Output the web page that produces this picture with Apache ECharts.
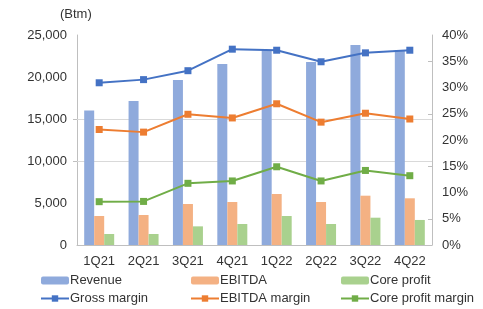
<!DOCTYPE html>
<html><head><meta charset="utf-8">
<script src="https://cdn.jsdelivr.net/npm/echarts@6/dist/echarts.min.js"></script>
<style>html,body{margin:0;padding:0;background:#fff}#c{width:483px;height:309px}</style>
</head><body><div id="c"></div>
<script>
const categories = ['1Q21','2Q21','3Q21','4Q21','1Q22','2Q22','3Q22','4Q22'];
const revenue = [16000, 17150, 19650, 21550, 23200, 21800, 23800, 23200];
const ebitda = [3450, 3570, 4880, 5120, 6070, 5120, 5870, 5560];
const coreProfit = [1310, 1310, 2220, 2500, 3450, 2500, 3250, 2980];
const grossMargin = [30.9, 31.5, 33.2, 37.3, 37.1, 34.9, 36.6, 37.1];
const ebitdaMargin = [22.0, 21.5, 24.9, 24.2, 26.9, 23.4, 25.1, 24.0];
const coreMargin = [8.25, 8.3, 11.75, 12.2, 14.9, 12.2, 14.2, 13.2];
const leftTicks = [0, 5000, 10000, 15000, 20000, 25000];
const rightTicks = [0, 5, 10, 15, 20, 25, 30, 35, 40];

const font = 'Liberation Sans, Arial, sans-serif';
const txt = '#333333';
const chart = echarts.init(document.getElementById('c'));
const lineSeries = (name, data, color) => ({
  name, type: 'line', yAxisIndex: 1, data,
  symbol: 'rect', symbolSize: 7,
  lineStyle: { color, width: 2 }, itemStyle: { color },
  z: 5
});
const legendBase = {
  orient: 'vertical', top: 274, itemWidth: 28, itemHeight: 8, itemGap: 5,
  textStyle: { fontFamily: font, fontSize: 13, color: txt, padding: [0,0,0,-4] },
  padding: 0
};
chart.setOption({
  animation: false,
  textStyle: { fontFamily: font },
  grid: { left: 77, right: 51, top: 35, bottom: 64 },
  graphic: [{ type: 'text', left: 60, top: 8, style: { text: '(Btm)', font: '13px ' + font, fill: txt } }],
  legend: [
    Object.assign({}, legendBase, { left: 40, data: ['Revenue', 'Gross margin'] }),
    Object.assign({}, legendBase, { left: 190, data: ['EBITDA', 'EBITDA margin'] }),
    Object.assign({}, legendBase, { left: 340, data: ['Core profit', 'Core profit margin'] })
  ],
  xAxis: {
    type: 'category', data: categories,
    axisLine: { lineStyle: { color: '#BFBFBF', width: 1 } },
    axisTick: { show: false },
    axisLabel: { color: txt, fontSize: 13, fontFamily: font, margin: 10 }
  },
  yAxis: [{
    type: 'value', min: 0, max: 25000, interval: 5000,
    axisLine: { show: true, lineStyle: { color: '#BFBFBF' } },
    axisTick: { show: true, length: 4, lineStyle: { color: '#BFBFBF' }, customValues: [10000, 15000] },
    splitLine: { show: false },
    axisLabel: { color: txt, fontSize: 13, fontFamily: font, margin: 10,
      customValues: leftTicks,
      formatter: v => v.toLocaleString('en-US') }
  }, {
    type: 'value', min: 0, max: 40, interval: 5,
    axisLine: { show: true, lineStyle: { color: '#BFBFBF' } },
    axisTick: { show: true, inside: true, length: 4, lineStyle: { color: '#BFBFBF' }, customValues: [5, 15, 25, 35] },
    splitLine: { show: false },
    axisLabel: { color: txt, fontSize: 13, fontFamily: font, margin: 10,
      customValues: rightTicks,
      formatter: v => v + '%' }
  }],
  series: [
    { name: 'Revenue', type: 'bar', data: revenue, barWidth: 10, barGap: '0%',
      itemStyle: { color: '#8FAADC' },
      markLine: { silent: true, symbol: 'none', z: 1, label: { show: false },
        lineStyle: { color: '#D9D9D9', type: 'solid', width: 1 },
        data: [{ yAxis: 10000 }, { yAxis: 15000 }] } },
    { name: 'EBITDA', type: 'bar', data: ebitda, barWidth: 10, barGap: '0%', itemStyle: { color: '#F4B183' } },
    { name: 'Core profit', type: 'bar', data: coreProfit, barWidth: 10, barGap: '0%', itemStyle: { color: '#A9D18E' } },
    lineSeries('Gross margin', grossMargin, '#4472C4'),
    lineSeries('EBITDA margin', ebitdaMargin, '#ED7D31'),
    lineSeries('Core profit margin', coreMargin, '#70AD47')
  ]
});
</script></body></html>
